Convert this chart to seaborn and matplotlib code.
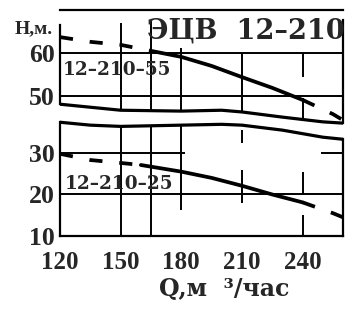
# ЭЦВ 12-210 pump head curves, redrawn from the catalogue scan
import numpy as np
import pandas as pd
import matplotlib
matplotlib.use('Agg')
import matplotlib.pyplot as plt
import seaborn as sns

# head curves: Q (m3/h) -> H (m)
q_55 = [120, 135, 150, 165, 180, 195, 210, 225, 240, 255, 260]
h_55 = [63.7, 62.6, 61.9, 60.5, 59.1, 57.0, 54.4, 51.9, 49.1, 45.8, 44.4]
q_25 = [120, 135, 150, 160, 180, 195, 210, 225, 240, 255, 260]
h_25 = [29.8, 28.3, 27.6, 27.1, 25.5, 24.0, 22.1, 20.0, 18.1, 15.5, 14.5]
work_55 = (165, 240)   # working range is solid, the rest dashed
work_25 = (160, 240)

# wavy break lines between the two halves of the axis
q_break = [120, 135, 150, 180, 200, 210, 230, 250, 260]
h_break_top = [48.1, 47.4, 46.7, 46.5, 46.7, 46.3, 45.1, 44.0, 43.7]
h_break_bot = [37.4, 36.7, 36.4, 36.7, 36.9, 36.7, 35.5, 33.8, 33.3]

x_ticks = [120, 150, 180, 210, 240]
y_ticks_top = [50, 60]
y_ticks_bot = [10, 20, 30]
label_55 = '12–210–55'
label_25 = '12–210–25'
title = 'ЭЦВ  12–210'

sns.set_style('white')
plt.rcParams['font.family'] = ['Liberation Serif', 'DejaVu Serif']
plt.rcParams['font.weight'] = 'bold'
plt.rcParams['axes.labelweight'] = 'bold'

LW_GRID = 1.4
LW_CURVE = 2.7
DASH = (0, (3.5, 4.5))


def draw_curve(ax, q, h, work):
    df = pd.DataFrame({'Q': q, 'H': h})
    lo, hi = work
    sns.lineplot(data=df[(df.Q >= lo) & (df.Q <= hi)], x='Q', y='H', ax=ax,
                 color='black', lw=LW_CURVE)
    for part in (df[df.Q <= lo], df[df.Q >= hi]):
        sns.lineplot(data=part, x='Q', y='H', ax=ax, color='black',
                     lw=LW_CURVE, linestyle=DASH)


def brk(h_list, q):
    return float(np.interp(q, q_break, h_list))


fig = plt.figure(figsize=(3.52, 3.09), dpi=100)
ax_top = fig.add_axes([60 / 352, 1 - 124 / 309, 283 / 352, 114 / 309])
ax_bot = fig.add_axes([60 / 352, 1 - 236 / 309, 283 / 352, 115 / 309])

for ax in (ax_top, ax_bot):
    ax.set_facecolor('none')
    ax.set_xlim(120, 260)
    ax.tick_params(length=0)
    for s in ax.spines.values():
        s.set_color('black')
        s.set_linewidth(1.6)

ax_top.set_ylim(43.5, 70)
ax_bot.set_ylim(10, 37.7)

# upper half: grid pieces as they survive in the scan
ax_top.hlines([50, 60], 120, 260, color='black', lw=LW_GRID)
ax_top.vlines(150, brk(h_break_top, 150), 67.0, color='black', lw=LW_GRID)
ax_top.vlines(165, brk(h_break_top, 165), 67.5, color='black', lw=LW_GRID)
ax_top.vlines(180, brk(h_break_top, 180), 61.2, color='black', lw=LW_GRID)
ax_top.vlines(210, brk(h_break_top, 210), 60.0, color='black', lw=LW_GRID)
ax_top.vlines(240, 54.4, 60.0, color='black', lw=LW_GRID)
ax_top.vlines(240, brk(h_break_top, 240), 49.5, color='black', lw=LW_GRID)

# lower half
ax_bot.hlines(30, 120, 182, color='black', lw=LW_GRID)
ax_bot.hlines(30, 249, 260, color='black', lw=LW_GRID)
ax_bot.hlines(20, 120, 260, color='black', lw=LW_GRID)
ax_bot.vlines(150, 10, brk(h_break_bot, 150), color='black', lw=LW_GRID)
ax_bot.vlines(165, 10, brk(h_break_bot, 165), color='black', lw=LW_GRID)
ax_bot.vlines(180, 16.3, brk(h_break_bot, 180), color='black', lw=LW_GRID)
ax_bot.vlines(210, 32.4, 35.5, color='black', lw=LW_GRID)
ax_bot.vlines(210, 18.0, 25.9, color='black', lw=LW_GRID)
ax_bot.vlines(240, 19.9, 25.4, color='black', lw=LW_GRID)
ax_bot.vlines(240, 10, 15.1, color='black', lw=LW_GRID)

# wavy break lines
ax_top.plot(q_break, h_break_top, color='black', lw=2.3, clip_on=False,
            solid_capstyle='butt')
ax_bot.plot(q_break, h_break_bot, color='black', lw=2.3, clip_on=False,
            solid_capstyle='butt')

draw_curve(ax_top, q_55, h_55, work_55)
draw_curve(ax_bot, q_25, h_25, work_25)

# frame
ax_top.spines['bottom'].set_visible(False)
ax_top.spines['left'].set_bounds(h_break_top[0], 66.5)
ax_top.spines['right'].set_bounds(h_break_top[-1], 67.7)
ax_bot.spines['top'].set_visible(False)
ax_bot.spines['left'].set_bounds(10, h_break_bot[0])
ax_bot.spines['right'].set_bounds(10, h_break_bot[-1])

ax_top.set_xticks([])
ax_top.set_yticks(y_ticks_top)
ax_bot.set_xticks(x_ticks)
ax_bot.set_yticks(y_ticks_bot)
for ax in (ax_top, ax_bot):
    ax.set_ylabel('')
    ax.tick_params(axis='y', pad=4, labelsize=18.5)
ax_top.set_xlabel('')
ax_bot.tick_params(axis='x', pad=11, labelsize=18)

ax_bot.set_xlabel('Q,м  ³/час', fontsize=17, family=['DejaVu Serif'],
                  fontweight='bold')
ax_bot.xaxis.set_label_coords(0.58, -0.355)

ax_top.text(1.007, 0.754, title, transform=ax_top.transAxes, ha='right',
            va='baseline', fontsize=19.5, family=['DejaVu Serif'])
ax_top.text(0.011, 0.43, label_55, transform=ax_top.transAxes, ha='left',
            va='baseline', fontsize=13.3, family=['DejaVu Serif'])
ax_bot.text(0.018, 0.409, label_25, transform=ax_bot.transAxes, ha='left',
            va='baseline', fontsize=13.3, family=['DejaVu Serif'])
fig.text(53 / 352, 1 - 33 / 309, 'Н,м.', ha='right', va='baseline',
         fontsize=14)

fig.savefig('out.png', dpi=100)
